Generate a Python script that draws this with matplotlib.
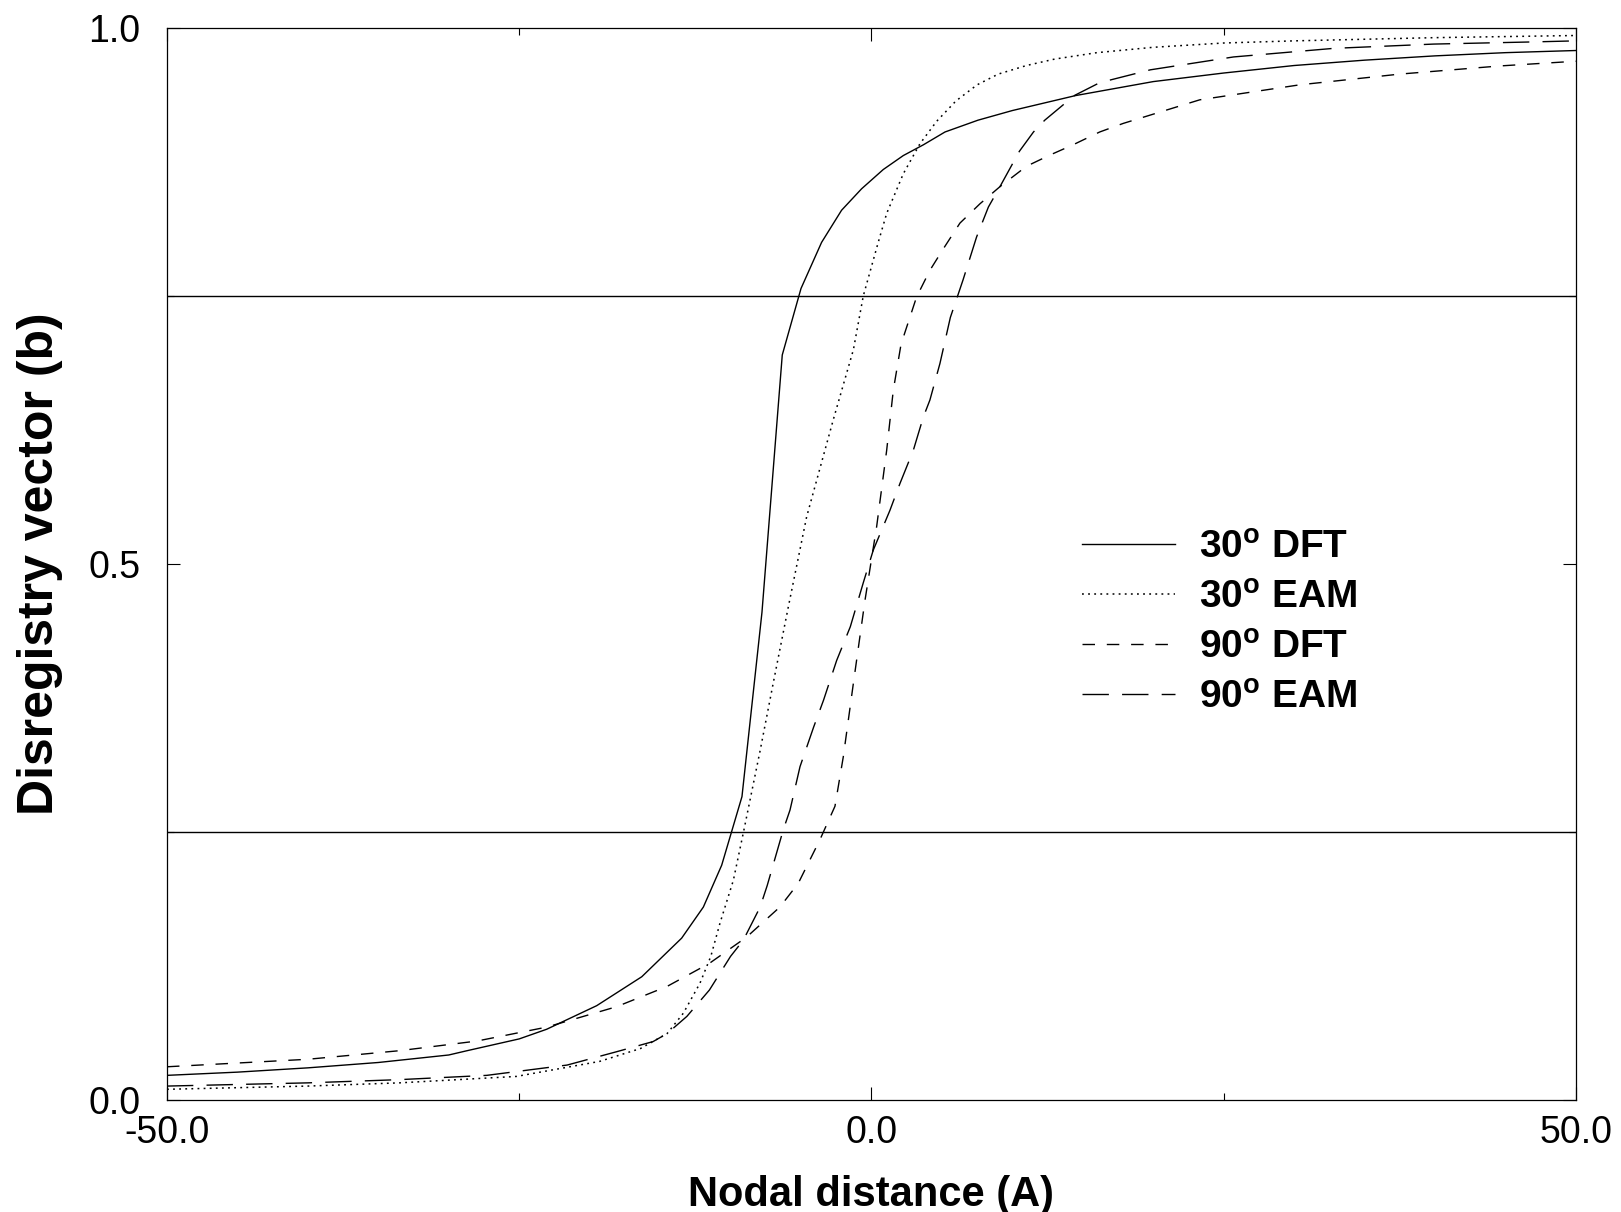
import matplotlib
matplotlib.use("Agg")
import matplotlib.pyplot as plt
from matplotlib.ticker import FixedLocator, FormatStrFormatter

plt.rcParams['font.family'] = ['Liberation Sans', 'DejaVu Sans']
plt.rcParams['mathtext.fontset'] = 'custom'
plt.rcParams['mathtext.rm'] = 'Liberation Sans'
plt.rcParams['mathtext.bf'] = 'Liberation Sans:bold'

# 30 deg DFT (solid)
x_30dft = [-50, -45, -40, -35, -30, -28.7, -25, -23.05, -19.5, -16.3, -13.47, -11.93,
           -10.63, -9.19, -7.77, -6.33, -5.0, -3.54, -2.12, -0.70, 0.84, 2.26, 3.68, 5.22,
           7.56, 10, 14.5, 20, 25, 30, 35, 40, 45, 50]
y_30dft = [0.023, 0.026, 0.030, 0.035, 0.042, 0.046, 0.057, 0.066, 0.088, 0.115, 0.151, 0.180,
           0.219, 0.283, 0.455, 0.695, 0.757, 0.800, 0.830, 0.850, 0.868, 0.881, 0.891, 0.903,
           0.914, 0.923, 0.937, 0.950, 0.958, 0.965, 0.970, 0.974, 0.977, 0.979]

# 30 deg EAM (dotted)
x_30eam = [-50, -40, -33.5, -25.2, -19.3, -16.4, -14.5, -13.35, -12.17, -11.4, -10.75, -9.8,
           -9.05, -7.9, -6.97, -5.9, -4.6, -2.7, -1.28, -0.58, 0.48, 1.08, 2.26, 3.44,
           4.63, 6, 7.5, 9, 11, 13, 16, 20, 25, 30, 40, 50]
y_30eam = [0.010, 0.013, 0.016, 0.022, 0.036, 0.048, 0.062, 0.081, 0.109, 0.134, 0.165, 0.205,
           0.252, 0.326, 0.389, 0.460, 0.544, 0.635, 0.700, 0.750, 0.800, 0.827, 0.864, 0.892,
           0.913, 0.932, 0.947, 0.957, 0.965, 0.971, 0.977, 0.982, 0.986, 0.988, 0.991, 0.993]

# 90 deg DFT (short dash)
x_90dft = [-50, -40, -33.5, -28, -23.05, -18.1, -14.5, -11.5, -8.86, -6.5, -5.2, -3.65,
           -2.59, -2.0, -1.28, -0.46, 0.37, 1.08, 1.55, 2.1, 3.2, 4.15, 5.1, 6.28, 7.7,
           9.12, 11.0, 12.67, 14.3, 16.2, 17.87, 23.3, 30.4, 37.5, 44.6, 50]
y_90dft = [0.031, 0.038, 0.046, 0.055, 0.068, 0.087, 0.106, 0.1275, 0.152, 0.180, 0.202, 0.243,
           0.274, 0.320, 0.389, 0.466, 0.535, 0.606, 0.662, 0.705, 0.749, 0.774, 0.794, 0.818, 0.836,
           0.852, 0.871, 0.8815, 0.891, 0.903, 0.911, 0.933, 0.947, 0.957, 0.9646, 0.969]

# 90 deg EAM (long dash)
x_90eam = [-50, -40, -33.5, -27.3, -21.6, -18.1, -15.5, -14.5, -13.1, -11.5, -10.0, -9.1,
           -7.9, -7.4, -6.26, -5.78, -5.07, -4.1, -3.4, -2.47, -1.5, -0.58, 0.13, 1.31,
           2.02, 2.97, 3.68, 4.15, 4.86, 5.6, 6.5, 7.46, 8.3, 9.12, 10.5, 11.5, 12.3,
           14.4, 16.2, 19.8, 25.7, 32.8, 39.9, 46.9, 50]
y_90eam = [0.013, 0.016, 0.019, 0.023, 0.0326, 0.045, 0.0545, 0.062, 0.078, 0.1026, 0.134, 0.149,
           0.180, 0.200, 0.252, 0.2705, 0.311, 0.348, 0.373, 0.410, 0.4415, 0.4825, 0.513, 0.550,
           0.575, 0.606, 0.637, 0.653, 0.687, 0.730, 0.765, 0.805, 0.833, 0.852, 0.885, 0.903, 0.914,
           0.937, 0.949, 0.961, 0.973, 0.981, 0.985, 0.987, 0.988]

labels = [r"$\mathbf{30^{o}}$ DFT", r"$\mathbf{30^{o}}$ EAM",
          r"$\mathbf{90^{o}}$ DFT", r"$\mathbf{90^{o}}$ EAM"]

fig = plt.figure(figsize=(16.21, 12.12), dpi=100)
ax = fig.add_axes([0.1030, 0.0924, 0.8692, 0.8845])

lw = 1.0
ax.plot(x_30dft, y_30dft, color='black', lw=lw, ls='-', label=labels[0])
ax.plot(x_30eam, y_30eam, color='black', lw=1.1, ls=(0, (1.2, 2.8)), label=labels[1])
ax.plot(x_90dft, y_90dft, color='black', lw=lw, ls=(0, (9, 8.5)), label=labels[2])
ax.plot(x_90eam, y_90eam, color='black', lw=lw, ls=(0, (19, 9.5)), label=labels[3])

# reference lines
ax.axhline(0.25, color='black', lw=1.0)
ax.axhline(0.75, color='black', lw=1.0)

ax.set_xlim(-50, 50)
ax.set_ylim(0, 1)
ax.xaxis.set_major_locator(FixedLocator([-50, 0, 50]))
ax.xaxis.set_minor_locator(FixedLocator([-25, 25]))
ax.yaxis.set_major_locator(FixedLocator([0, 0.5, 1.0]))
ax.yaxis.set_minor_locator(FixedLocator([0.25, 0.75]))
ax.xaxis.set_major_formatter(FormatStrFormatter('%.1f'))
ax.yaxis.set_major_formatter(FormatStrFormatter('%.1f'))
ax.tick_params(which='both', direction='in', top=True, right=True, width=0.8)
ax.tick_params(which='major', length=9.5, labelsize=27)
ax.tick_params(axis='x', which='major', pad=11)
ax.tick_params(axis='y', which='major', pad=19)
ax.tick_params(which='minor', length=5)
for s in ax.spines.values():
    s.set_linewidth(0.9)

ax.set_xlabel('Nodal distance (A)', fontsize=30, fontweight='bold')
ax.set_ylabel('Disregistry vector (b)', fontsize=36, fontweight='bold')
ax.xaxis.set_label_coords(0.5, -0.070)
ax.yaxis.set_label_coords(-0.0738, 0.50)

leg = ax.legend(loc='upper left', bbox_to_anchor=(1082 / 1621, 1 - 530 / 1212),
                bbox_transform=fig.transFigure, frameon=False, fontsize=28,
                handlelength=2.39, handletextpad=0.62, labelspacing=0.36,
                borderpad=0, borderaxespad=0)
for t in leg.get_texts():
    t.set_fontweight('bold')

fig.savefig('out.png', dpi=100)
